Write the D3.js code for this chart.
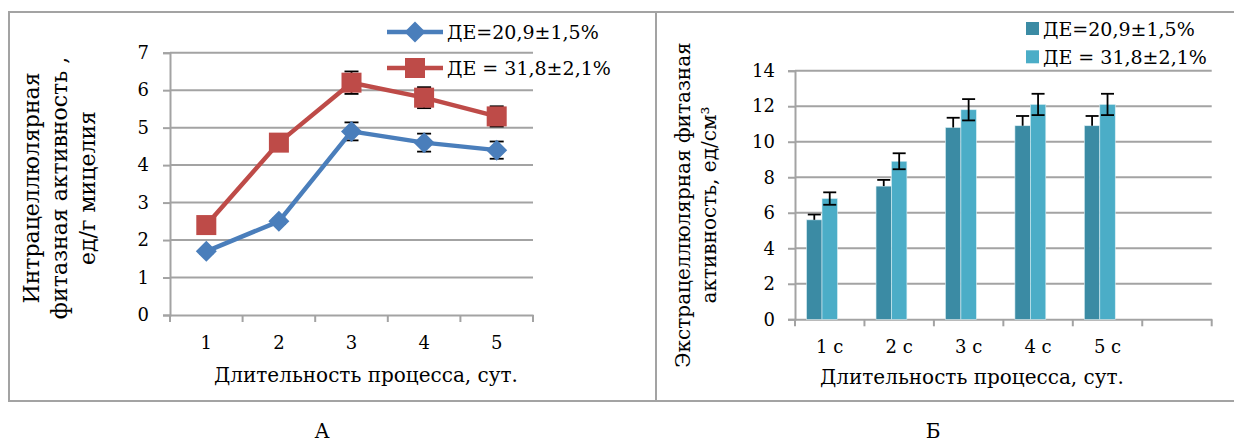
<!DOCTYPE html>
<html>
<head>
<meta charset="utf-8">
<script src="https://cdn.jsdelivr.net/npm/d3@7"></script>
<style>
  body { margin: 0; background: #fff; }
  svg text { font-family: "DejaVu Serif", serif; fill: #000; }
</style>
</head>
<body>
<div id="chart"></div>
<script>
// data
var seriesNames = ["ДЕ=20,9±1,5%", "ДЕ = 31,8±2,1%"];

var daysA = ["1", "2", "3", "4", "5"];
var ticksA = [0, 1, 2, 3, 4, 5, 6, 7];
var intraLow = [1.7, 2.5, 4.9, 4.6, 4.4];
var intraLowErr = [0.06, 0.07, 0.24, 0.24, 0.23];
var intraHigh = [2.4, 4.6, 6.2, 5.8, 5.3];
var intraHighErr = [0.12, 0.15, 0.3, 0.28, 0.27];

var daysB = ["1 с", "2 с", "3 с", "4 с", "5 с", ""];
var ticksB = [0, 2, 4, 6, 8, 10, 12, 14];
var extraLow = [5.6, 7.5, 10.8, 10.9, 10.9];
var extraLowErr = [0.3, 0.35, 0.55, 0.55, 0.55];
var extraHigh = [6.8, 8.9, 11.8, 12.1, 12.1];
var extraHighErr = [0.35, 0.45, 0.6, 0.6, 0.6];

var W = 1234, H = 441;
var gridColor = "#a3a3a3";
var blue = "#4a7ebb", red = "#be4b48";
var darkTeal = "#3b8ba4", lightTeal = "#4badc7";

var svg = d3.select("#chart").append("svg")
	.attr("width", W)
	.attr("height", H);

// panel frames
svg.append("rect").attr("x", 9).attr("y", 12).attr("width", 647).attr("height", 389)
	.attr("fill", "none").attr("stroke", gridColor).attr("stroke-width", 2);
svg.append("rect").attr("x", 656).attr("y", 12).attr("width", 590).attr("height", 389)
	.attr("fill", "none").attr("stroke", gridColor).attr("stroke-width", 2);

svg.append("text").attr("x", 322).attr("y", 438).attr("text-anchor", "middle")
	.style("font-size", "20px").text("А");
svg.append("text").attr("x", 933).attr("y", 438).attr("text-anchor", "middle")
	.style("font-size", "20px").text("Б");

// ---------- chart A: line chart ----------
var xA = d3.scaleBand().domain(daysA).range([170, 533]);
var yA = d3.scaleLinear().domain([0, 7]).range([315, 52.7]);

var gA = svg.append("g");

gA.selectAll(".gridA")
	.data(ticksA.filter(function(d){ return d > 0; }))
	.enter().append("line")
	.attr("x1", 170).attr("x2", 533)
	.attr("y1", function(d){ return yA(d); })
	.attr("y2", function(d){ return yA(d); })
	.attr("stroke", gridColor).attr("stroke-width", 2);

var yAxisA = gA.append("g")
	.attr("transform", "translate(170,0)")
	.call(d3.axisLeft(yA).tickValues(ticksA).tickSize(7).tickPadding(14).tickFormat(d3.format("d")));

var xAxisA = gA.append("g")
	.attr("transform", "translate(0," + yA(0) + ")")
	.call(d3.axisBottom(xA).tickSize(0).tickPadding(21));

// ticks between categories
gA.selectAll(".xtickA")
	.data(d3.range(daysA.length + 1))
	.enter().append("line")
	.attr("x1", function(i){ return 170 + i * xA.step(); })
	.attr("x2", function(i){ return 170 + i * xA.step(); })
	.attr("y1", yA(0)).attr("y2", yA(0) + 7)
	.attr("stroke", gridColor).attr("stroke-width", 2);

[yAxisA, xAxisA].forEach(function(ax){
	ax.selectAll(".domain").attr("stroke", gridColor).attr("stroke-width", 2);
	ax.selectAll(".tick line").attr("stroke", gridColor).attr("stroke-width", 2);
	ax.selectAll(".tick text").style("font-size", "18px").style("font-family", "DejaVu Serif");
});

function cx(i){ return xA(daysA[i]) + xA.bandwidth() / 2; }

var seriesA = [
	{ vals: intraLow, err: intraLowErr, color: blue, shape: "diamond" },
	{ vals: intraHigh, err: intraHighErr, color: red, shape: "square" }
];

var line = d3.line()
	.x(function(d, i){ return cx(i); })
	.y(function(d){ return yA(d); });

seriesA.forEach(function(s){
	// error bars, under the markers
	s.vals.forEach(function(v, i){
		var g = gA.append("g").attr("stroke", "#000").attr("stroke-width", 1.8);
		g.append("line").attr("x1", cx(i)).attr("x2", cx(i))
			.attr("y1", yA(v + s.err[i])).attr("y2", yA(v - s.err[i]));
		g.append("line").attr("x1", cx(i) - 7).attr("x2", cx(i) + 7)
			.attr("y1", yA(v + s.err[i])).attr("y2", yA(v + s.err[i]));
		g.append("line").attr("x1", cx(i) - 7).attr("x2", cx(i) + 7)
			.attr("y1", yA(v - s.err[i])).attr("y2", yA(v - s.err[i]));
	});
	gA.append("path")
		.datum(s.vals)
		.attr("d", line)
		.attr("fill", "none")
		.attr("stroke", s.color)
		.attr("stroke-width", 4.5)
		.attr("stroke-linejoin", "round");
});

function marker(g, shape, x, y, color){
	if (shape === "diamond") {
		g.append("path")
			.attr("d", "M" + x + "," + (y - 10.5) + "L" + (x + 10.5) + "," + y + "L" + x + "," + (y + 10.5) + "L" + (x - 10.5) + "," + y + "Z")
			.attr("fill", color);
	} else {
		g.append("rect").attr("x", x - 10).attr("y", y - 10)
			.attr("width", 20).attr("height", 20).attr("fill", color);
	}
}

seriesA.forEach(function(s){
	s.vals.forEach(function(v, i){
		marker(gA, s.shape, cx(i), yA(v), s.color);
	});
});

// legend A
seriesA.forEach(function(s, i){
	var ly = 32 + i * 36;
	gA.append("line").attr("x1", 387).attr("x2", 443).attr("y1", ly).attr("y2", ly)
		.attr("stroke", s.color).attr("stroke-width", 4.5);
	marker(gA, s.shape, 415, ly, s.color);
	gA.append("text").attr("x", 447).attr("y", ly + 7)
		.style("font-size", "19px").text(seriesNames[i]);
});

// axis titles A
gA.append("text").attr("x", 366).attr("y", 382).attr("text-anchor", "middle")
	.style("font-size", "20px").text("Длительность процесса, сут.");
["Интрацеллюлярная", "фитазная активность ,", "ед/г мицелия"].forEach(function(t, i){
	gA.append("text")
		.attr("transform", "translate(" + (39 + i * 28) + ",188) rotate(-90)")
		.attr("text-anchor", "middle")
		.style("font-size", "22px")
		.text(t);
});

// ---------- chart B: grouped bars ----------
var xB = d3.scaleBand().domain(daysB).range([795, 1211.7]);
var subB = d3.scaleBand().domain([0, 1, 2]).range([0, xB.bandwidth()]).paddingInner(0).paddingOuter(0.75);
var yB = d3.scaleLinear().domain([0, 14]).range([319.3, 70.7]);

var gB = svg.append("g");

gB.selectAll(".gridB")
	.data(ticksB.filter(function(d){ return d > 0; }))
	.enter().append("line")
	.attr("x1", 795).attr("x2", 1211.7)
	.attr("y1", function(d){ return yB(d); })
	.attr("y2", function(d){ return yB(d); })
	.attr("stroke", gridColor).attr("stroke-width", 2);

var yAxisB = gB.append("g")
	.attr("transform", "translate(795,0)")
	.call(d3.axisLeft(yB).tickValues(ticksB).tickSize(7).tickPadding(13).tickFormat(d3.format("d")));

var xAxisB = gB.append("g")
	.attr("transform", "translate(0," + yB(0) + ")")
	.call(d3.axisBottom(xB).tickSize(0).tickPadding(21));

gB.selectAll(".xtickB")
	.data(d3.range(daysB.length + 1))
	.enter().append("line")
	.attr("x1", function(i){ return 795 + i * xB.step(); })
	.attr("x2", function(i){ return 795 + i * xB.step(); })
	.attr("y1", yB(0)).attr("y2", yB(0) + 7)
	.attr("stroke", gridColor).attr("stroke-width", 2);

[yAxisB, xAxisB].forEach(function(ax){
	ax.selectAll(".domain").attr("stroke", gridColor).attr("stroke-width", 2);
	ax.selectAll(".tick line").attr("stroke", gridColor).attr("stroke-width", 2);
	ax.selectAll(".tick text").style("font-size", "18px").style("font-family", "DejaVu Serif");
});

var seriesB = [
	{ vals: extraLow, err: extraLowErr, color: darkTeal, both: false },
	{ vals: extraHigh, err: extraHighErr, color: lightTeal, both: true }
];

seriesB.forEach(function(s, k){
	gB.selectAll(".bar" + k)
		.data(s.vals)
		.enter().append("rect")
		.attr("x", function(d, i){ return xB(daysB[i]) + subB(k); })
		.attr("y", function(d){ return yB(d); })
		.attr("width", subB.bandwidth())
		.attr("height", function(d){ return yB(0) - yB(d); })
		.attr("fill", s.color)
		.attr("stroke", "#d8eef4")
		.attr("stroke-width", 0.6);
});

seriesB.forEach(function(s, k){
	s.vals.forEach(function(v, i){
		var x = xB(daysB[i]) + subB(k) + subB.bandwidth() / 2;
		var lo = s.both ? v - s.err[i] : v;
		var g = gB.append("g").attr("stroke", "#000").attr("stroke-width", 1.8);
		g.append("line").attr("x1", x).attr("x2", x).attr("y1", yB(v + s.err[i])).attr("y2", yB(lo));
		g.append("line").attr("x1", x - 6.5).attr("x2", x + 6.5)
			.attr("y1", yB(v + s.err[i])).attr("y2", yB(v + s.err[i]));
		if (s.both) {
			g.append("line").attr("x1", x - 6.5).attr("x2", x + 6.5)
				.attr("y1", yB(lo)).attr("y2", yB(lo));
		}
	});
});

// legend B
seriesB.forEach(function(s, i){
	var ly = 28.5 + i * 28.3;
	gB.append("rect").attr("x", 1026).attr("y", ly - 6.5).attr("width", 13).attr("height", 13)
		.attr("fill", s.color);
	gB.append("text").attr("x", 1043).attr("y", ly + 7)
		.style("font-size", "19px").text(seriesNames[i]);
});

// axis titles B
gB.append("text").attr("x", 972).attr("y", 384).attr("text-anchor", "middle")
	.style("font-size", "20px").text("Длительность процесса, сут.");
["Экстрацеллюлярная фитазная", "активность, ед/см³"].forEach(function(t, i){
	gB.append("text")
		.attr("transform", "translate(" + (690 + i * 26) + ",205) rotate(-90)")
		.attr("text-anchor", "middle")
		.style("font-size", "20px")
		.text(t);
});
</script>
</body>
</html>
